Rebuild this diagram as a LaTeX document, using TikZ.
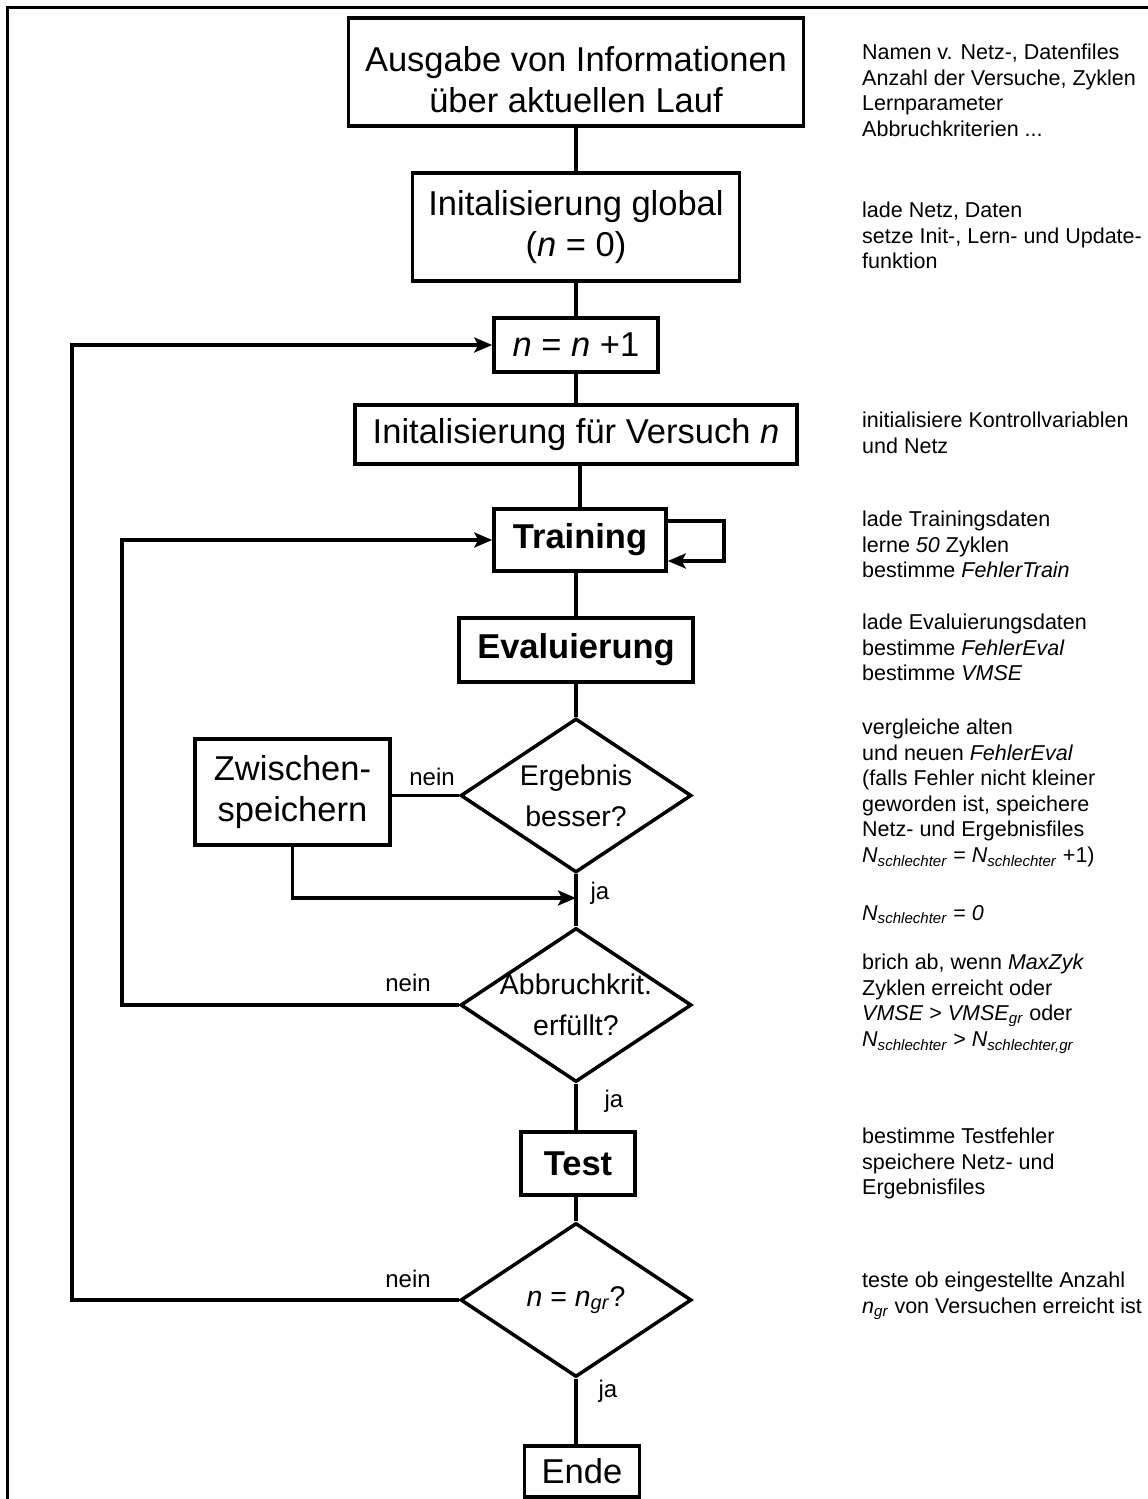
\documentclass[tikz,border=0pt]{standalone}
\usepackage{fontspec}
\setmainfont{Liberation Sans}
\usetikzlibrary{shapes.geometric,arrows.meta}
\begin{document}
\begin{tikzpicture}[x=1pt,y=-1pt,
	kasten/.style={draw,line width=3.5pt,rectangle,inner sep=0pt,align=center,font=\fontsize{34.5}{41}\selectfont},
	raute/.style={draw,line width=3.5pt,diamond,aspect=1.5,inner xsep=-40pt,inner ysep=-25pt,
		minimum width=231pt,minimum height=154pt,align=center,font=\fontsize{28.5}{41}\selectfont},
	linie/.style={line width=3.5pt},
	pfeil/.style={line width=3.5pt,-{Stealth[length=18pt,width=15pt,inset=4pt]}},
	marke/.style={inner sep=0pt,font=\fontsize{24}{28}\selectfont},
	notiz/.style={anchor=north west,align=left,inner sep=0pt,font=\fontsize{21.5}{25.5}\selectfont}]
\useasboundingbox (0,0) rectangle (1148,1499);
\draw[line width=3pt] (7,1499) -- (7,7) -- (1148,7);
% Ablauf
\node[kasten,minimum width=455pt,minimum height=108pt] (ausgabe) at (576,72) {\rule{0pt}{40pt}Ausgabe von Informationen\\über aktuellen Lauf};
\node[kasten,minimum width=327pt,minimum height=108pt] (initglobal) at (576,227) {Initalisierung global\\(\textit{n} = 0)};
\node[kasten,minimum width=164pt,minimum height=54pt] (inkrement) at (576,345) {\textit{n} = \textit{n} +1};
\node[kasten,minimum width=442pt,minimum height=59pt] (initversuch) at (576,434.5) {Initalisierung für Versuch \textit{n}};
\node[kasten,minimum width=172pt,minimum height=62pt] (training) at (580,540) {\textbf{Training}};
\node[kasten,minimum width=234pt,minimum height=64pt] (evaluierung) at (576,650) {\textbf{Evaluierung}};
\node[raute] (besser) at (576,795.5) {Ergebnis\\besser?};
\node[kasten,minimum width=195pt,minimum height=106pt] (zwischen) at (292.5,792) {Zwischen-\\speichern};
\node[raute] (abbruch) at (576,1005) {Abbruchkrit.\\erfüllt?};
\node[kasten,minimum width=114pt,minimum height=63pt] (test) at (578,1163.5) {\textbf{Test}};
\node[raute] (fertig) at (576,1300) {\textit{n} = \textit{n}\textsubscript{\textit{gr}}?};
\node[kasten,minimum width=115pt,minimum height=51pt] (ende) at (582,1471.5) {Ende};
\coordinate (sammel) at (576,898);
\coordinate (linksA) at (122,1005);
\coordinate (linksB) at (72,1300);
% Verbindungen
\draw[linie] (ausgabe) -- (initglobal);
\draw[linie] (initglobal) -- (inkrement);
\draw[linie] (inkrement) -- (initversuch);
\draw[linie] (initversuch.south -| training) -- (training);
\draw[linie] (training.south -| evaluierung) -- (evaluierung);
\draw[linie] (evaluierung) -- (besser);
\draw[pfeil] ([yshift=19pt]training.east) -- ++(56,0) |- ([yshift=-21pt]training.east);
\draw[linie] (besser.west) -- (besser.west -| zwischen.east);
\draw[pfeil] (zwischen.south) |- (sammel);
\draw[linie] (besser) -- (abbruch);
\draw[pfeil] (abbruch.west) -- (linksA) |- (training.west);
\draw[linie] (abbruch.south) -- (abbruch.south |- test.north);
\draw[linie] (test.south -| fertig) -- (fertig);
\draw[pfeil] (fertig.west) -- (linksB) |- (inkrement.west);
\draw[linie] (fertig.south) -- (fertig.south |- ende.north);
% Beschriftungen
\node[marke] (neinA) at (432,777) {nein};
\node[marke] (jaA) at (600,893) {ja};
\node[marke] (neinB) at (408,983) {nein};
\node[marke] (jaB) at (614,1101) {ja};
\node[marke] (neinC) at (408,1279) {nein};
\node[marke] (jaC) at (608,1391) {ja};
% Anmerkungen rechts
\node[notiz] (n1) at (862,44) {Namen v. Netz-, Datenfiles\\Anzahl der Versuche, Zyklen\\Lernparameter\\Abbruchkriterien ...};
\node[notiz] (n2) at (862,202) {lade Netz, Daten\\setze Init-, Lern- und Update-\\funktion};
\node[notiz] (n3) at (862,412) {initialisiere Kontrollvariablen\\und Netz};
\node[notiz] (n4) at (862,511) {lade Trainingsdaten\\lerne \textit{50} Zyklen\\bestimme \textit{FehlerTrain}};
\node[notiz] (n5) at (862,614) {lade Evaluierungsdaten\\bestimme \textit{FehlerEval}\\bestimme \textit{VMSE}};
\node[notiz] (n6) at (862,719) {vergleiche alten\\und neuen \textit{FehlerEval}\\(falls Fehler nicht kleiner\\geworden ist, speichere\\Netz- und Ergebnisfiles\\\textit{N}\textsubscript{\textit{schlechter}} = \textit{N}\textsubscript{\textit{schlechter}} +1)};
\node[notiz] (n7) at (862,905) {\textit{N}\textsubscript{\textit{schlechter}} = \textit{0}};
\node[notiz] (n8) at (862,954) {brich ab, wenn \textit{MaxZyk}\\Zyklen erreicht oder\\\textit{VMSE} > \textit{VMSE}\textsubscript{\textit{gr}} oder\\\textit{N}\textsubscript{\textit{schlechter}} > \textit{N}\textsubscript{\textit{schlechter,gr}}};
\node[notiz] (n9) at (862,1128) {bestimme Testfehler\\speichere Netz- und\\Ergebnisfiles};
\node[notiz] (n10) at (862,1272) {teste ob eingestellte Anzahl\\\textit{n}\textsubscript{\textit{gr}} von Versuchen erreicht ist};
\end{tikzpicture}
\end{document}
